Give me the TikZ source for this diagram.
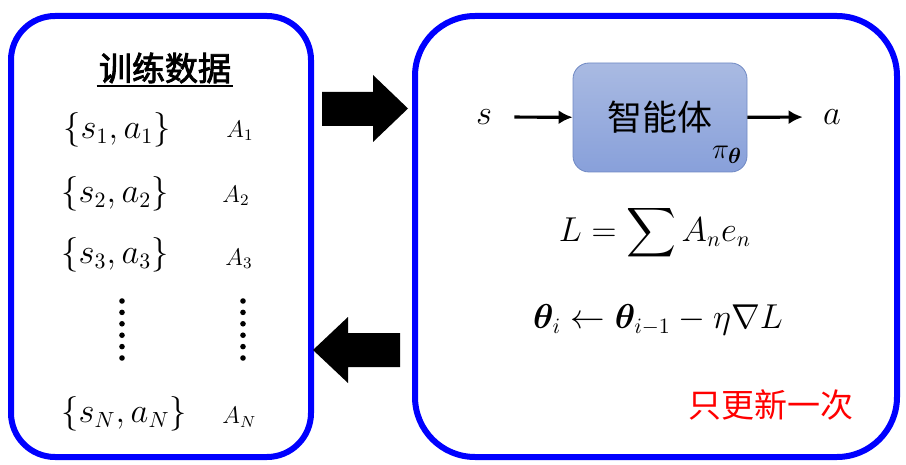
\documentclass[tikz,border=0pt]{standalone}
\usepackage{fontspec}
\usepackage{amsmath}
\usepackage{bm}
\usepackage{tikz}
\usetikzlibrary{positioning,arrows.meta}
\newfontfamily\cjk[AutoFakeBold=2.5]{Noto Sans CJK SC}
\definecolor{agenttop}{RGB}{169,186,226}
\definecolor{agentbottom}{RGB}{136,160,218}
\definecolor{agentline}{RGB}{112,137,195}
\tikzset{
	>={Latex[length=7pt,width=7pt]},
	panel/.style={draw=blue, line width=3pt},
	agent/.style={draw=agentline, rounded corners=8pt, top color=agenttop, bottom color=agentbottom, minimum width=87pt, minimum height=54.5pt, inner sep=0pt},
	flow/.style={->, line width=1.6pt},
	big/.style={font=\fontsize{16}{19}\selectfont},
	small/.style={font=\fontsize{12}{14}\selectfont},
	blockarrow/.style={fill=black},
}

\begin{document}
\begin{tikzpicture}[x=0.5pt, y=-0.5pt]
		\useasboundingbox (0,0) rectangle (906,465);

		% the two panels
		\draw[panel, rounded corners=22pt] (11,16) rectangle (311,457);
		\draw[panel, rounded corners=30pt] (415,16) rectangle (897,457);

		% block arrows between the panels
		\fill[blockarrow] (322,92) -- (373,92) -- (373,75) -- (408,108.5) -- (373,142) -- (373,126) -- (322,126) -- cycle;
		\fill[blockarrow] (400,333) -- (348,333) -- (348,317) -- (313,350) -- (348,383) -- (348,367) -- (400,367) -- cycle;

		% training data
		\node[font=\cjk\bfseries\fontsize{16.5}{18}\selectfont, inner sep=1pt] (title) at (165,68) {训练数据};
		\draw[line width=1pt] (title.south west) -- (title.south east);

		\node[big, anchor=west, inner sep=0pt] (d1) at (63,130) {$\{s_1,a_1\}$};
		\node[big, anchor=west, inner sep=0pt] (d2) at (61,194) {$\{s_2,a_2\}$};
		\node[big, anchor=west, inner sep=0pt] (d3) at (61,255) {$\{s_3,a_3\}$};
		\node[big, anchor=west, inner sep=0pt] (dN) at (61,414) {$\{s_N,a_N\}$};
		\node[small, anchor=west, inner sep=0pt] (A1) at (226,131) {$A_1$};
		\node[small, anchor=west, inner sep=0pt] (A2) at (222,196) {$A_2$};
		\node[small, anchor=west, inner sep=0pt] (A3) at (225,259) {$A_3$};
		\node[small, anchor=west, inner sep=0pt] (AN) at (222,417) {$A_N$};
		\foreach \k in {0,...,5} {
			\fill (122,301+11.4*\k) circle (1.4pt);
			\fill (243,301+11.4*\k) circle (1.4pt);
		}

		% agent
		\node[agent, font=\cjk\fontsize{17.5}{19}\selectfont] (agent) at (660,117.5) {智能体};
		\node[font=\fontsize{15}{17}\selectfont, inner sep=0pt] (pi) at (727,155) {$\pi_{\bm{\theta}}$};
		\node[big, inner sep=0pt] (s) at (484,117) {$s$};
		\node[big, inner sep=0pt] (a) at (832,117) {$a$};
		\draw[flow, shorten <=11pt] (s) -- (agent);
		\draw[flow, shorten >=10pt] (agent) -- (a);

		\node[big] (loss) at (655,233) {$\displaystyle L=\sum A_n e_n$};
		\node[big] (update) at (658,320) {$\bm{\theta}_i \leftarrow \bm{\theta}_{i-1}-\eta\nabla L$};
		\node[font=\cjk\fontsize{16.5}{19}\selectfont, text=red] (once) at (771,405) {只更新一次};
	\end{tikzpicture}
\end{document}
